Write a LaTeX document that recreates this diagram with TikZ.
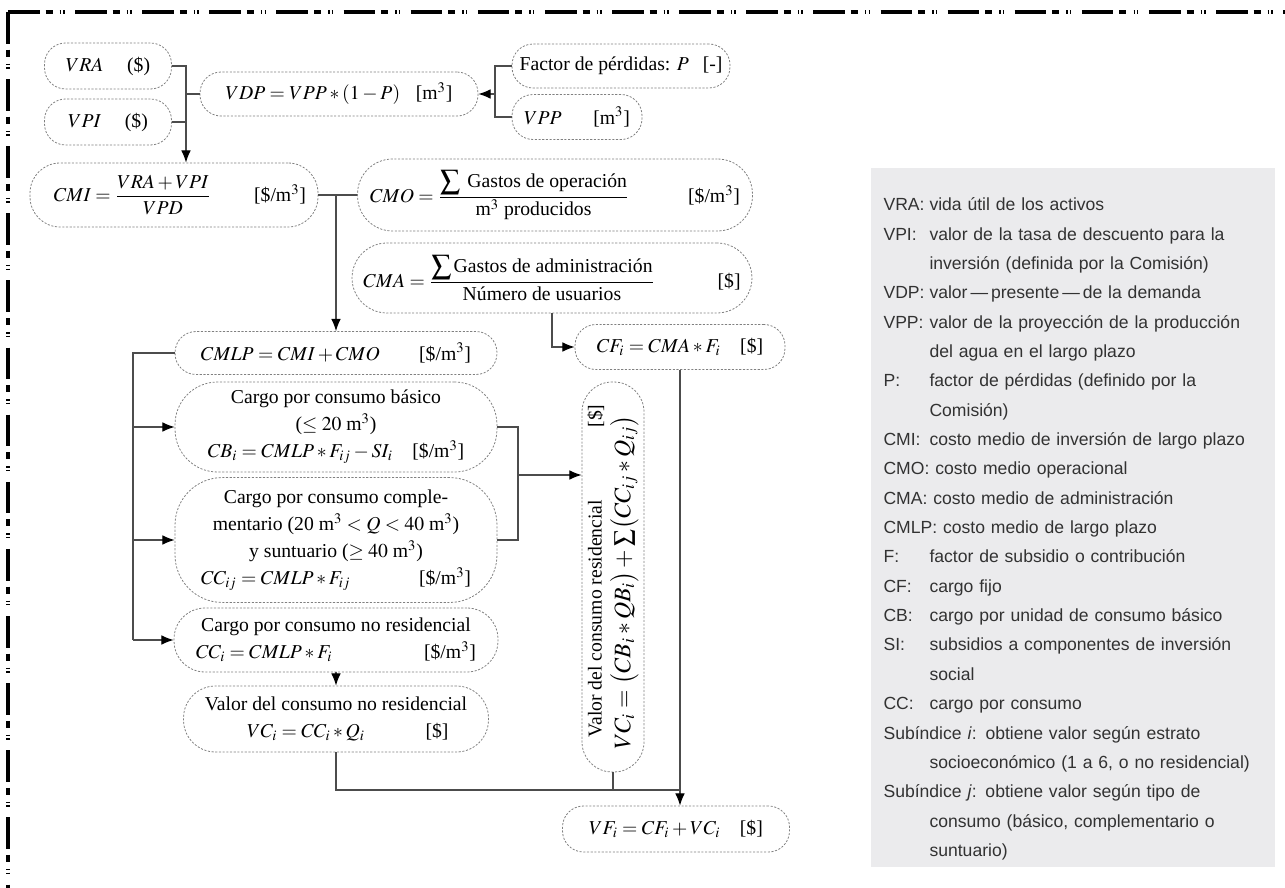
\documentclass[tikz,border=0pt]{standalone}
\usepackage{amsmath}
\usepackage{mathptmx}
\usepackage[no-math]{fontspec}
\setmainfont{Liberation Serif}
\newfontfamily\legendfont{Liberation Sans}
\usepackage{tikz}
\usetikzlibrary{positioning}
\usetikzlibrary{arrows.meta}
\definecolor{linegray}{rgb}{0.3,0.3,0.3}
\definecolor{boxgray}{rgb}{0.5,0.5,0.5}
\definecolor{legendbg}{RGB}{235,235,237}
\definecolor{legendtext}{RGB}{50,50,50}

% legend entries
\newlength{\lgdind}\setlength{\lgdind}{0.92cm}
\newcommand{\lgd}[2]{\par\noindent\hangindent=\lgdind\hangafter=1\makebox[\lgdind][l]{#1}#2}
\newcommand{\lgdw}[2]{\par\noindent\hangindent=\lgdind\hangafter=1#1 #2}

\begin{document}
\begin{tikzpicture}[
            x = 0.02cm, y = -0.02cm, % pixel grid
            > = {Latex[length=7pt,width=5.5pt,color=black]}, % arrow head style
            line width = 0.6pt
        ]

        \tikzstyle{pill}=[
            draw = boxgray,
            dash pattern = on 1.2pt off 0.9pt,
            line width = 0.45pt,
            rounded corners = #1,
            inner sep = 1pt,
            align = center,
            font = \fontsize{11.2}{15.4}\selectfont
        ]
        \tikzset{pill/.default=0.42cm}
        \tikzstyle{line}=[draw = linegray]
        \tikzstyle{frame}=[
            line width = 1.8pt,
            dash pattern = on 18pt off 3.4pt on 4pt off 4pt on 0.8pt off 1.2pt on 0.8pt off 6pt
        ]

        \useasboundingbox (0,0) rectangle (1285,888);

        % outer frame
        \draw[frame] (8,12) -- (1285,12);
        \draw[frame] (8,12) -- (8,888);

        % inputs
        \node[pill, minimum width=2.54cm, minimum height=0.92cm] (vra) at (108,66) {$VRA$\hspace{1.2em}(\$)};
        \node[pill, minimum width=2.54cm, minimum height=0.92cm] (vpi) at (108,122) {$VPI$\hspace{1.2em}(\$)};
        \node[pill, minimum width=5.56cm, minimum height=0.88cm] (vdp) at (339,94) {$VDP = VPP \ast (1-P)$\hspace{0.8em}[m$^3$]};
        \node[pill, minimum width=4.36cm, minimum height=0.88cm] (fp) at (621,66) {Factor de pérdidas: $P$\hspace{0.7em}[-]};
        \node[pill, minimum width=2.6cm, minimum height=0.9cm] (vpp) at (577,117) {$VPP$\hspace{1.6em}[m$^3$]};

        % unit costs
        \node[pill=0.6cm, minimum width=5.76cm, minimum height=1.28cm] (cmi) at (174,195)
            {\hspace{0.6em}$CMI = \dfrac{VRA+VPI}{VPD}$\hspace{2.2em}[\$/m$^3$]};
        \node[pill=0.7cm, minimum width=7.9cm, minimum height=1.44cm] (cmo) at (555,195)
            {$CMO = \dfrac{\displaystyle\sum \text{ Gastos de operación}}{\text{m}^3\ \text{producidos}}$\hspace{3em}[\$/m$^3$]};
        \node[pill=0.7cm, minimum width=8cm, minimum height=1.4cm] (cma) at (552,278)
            {$CMA = \dfrac{\displaystyle\sum \text{Gastos de administración}}{\text{Número de usuarios}}$\hspace{3.2em}[\$]};
        \node[pill, minimum width=4.2cm, minimum height=0.9cm] (cf) at (680,347) {$CF_i = CMA \ast F_i$\hspace{1em}[\$]};

        % charges
        \node[pill, minimum width=6.44cm, minimum height=0.86cm] (cmlp) at (336,353) {$CMLP = CMI + CMO$\hspace{2em}[\$/m$^3$]};
        \node[pill=0.85cm, minimum width=6.44cm, minimum height=1.8cm] (cb) at (336,427)
            {Cargo por consumo básico\\($\leq 20$ m$^3$)\\$CB_i = CMLP \ast F_{ij} - SI_i$\hspace{1em}[\$/m$^3$]};
        \node[pill=0.95cm, minimum width=6.44cm, minimum height=2.5cm] (ccij) at (336,540)
            {Cargo por consumo comple-\\mentario (20 m$^3 < Q < 40$ m$^3$)\\y suntuario ($\geq 40$ m$^3$)\\
             \makebox[5.4cm]{$CC_{ij} = CMLP \ast F_{ij}$\hfill[\$/m$^3$]}};
        \node[pill=0.62cm, minimum width=6.48cm, minimum height=1.28cm] (cci) at (336,640)
            {Cargo por consumo no residencial\\ \makebox[5.6cm]{$CC_i = CMLP \ast F_i$\hfill[\$/m$^3$]}};
        \node[pill=0.64cm, minimum width=6.1cm, minimum height=1.32cm] (vci) at (336,719)
            {Valor del consumo no residencial\\ \makebox[4.5cm]{\hspace{1.2em}$VC_i = CC_i \ast Q_i$\hfill[\$]}};

        % residential value, turned upright
        \node[pill=0.6cm, rotate=90, minimum width=7.8cm, minimum height=1.24cm, align=left] (vcr) at (613,577)
            {\makebox[6.9cm][l]{\hspace{0.6em}Valor del consumo residencial\hfill[\$]}\\[1pt]
             {\fontsize{13.5}{15}\selectfont$VC_i = \bigl(CB_i \ast QB_i\bigr) + \sum\bigl(CC_{ij} \ast Q_{ij}\bigr)$}};

        % total
        \node[pill, minimum width=4.54cm, minimum height=0.92cm] (vf) at (676,829) {$VF_i = CF_i + VC_i$\hspace{1em}[\$]};

        % connectors
        \coordinate (busA) at (186,94);
        \draw[line] (vra.east) -| (busA);
        \draw[line] (vpi.east) -| (busA);
        \draw[line] (busA) -- (vdp.west);
        \draw[line,->] (vpi.east -| busA) -- (cmi.north -| busA);

        \coordinate (busB) at (495,94);
        \draw[line] (fp.west) -| (busB);
        \draw[line] (vpp.west) -| (busB);
        \draw[line,->] (busB) -- (vdp.east);

        \draw[line] (cmi.east) -- (cmo.west);
        \coordinate (busC) at (336,195);
        \draw[line,->] (busC) -- (cmlp.north);
        \draw[line,->] (cma.south) |- (cf.west);

        \coordinate (busD) at (133,353);
        \draw[line] (cmlp.west) -- (busD) -- (busD |- cci.west);
        \draw[line,->] (busD |- cb.west) -- (cb.west);
        \draw[line,->] (busD |- ccij.west) -- (ccij.west);
        \draw[line,->] (busD |- cci.west) -- (cci.west);

        \coordinate (busE) at (518,475);
        \draw[line] (cb.east) -| (busE);
        \draw[line] (ccij.east) -| (busE);
        \draw[line,->] (busE) -- (busE -| vcr.north);

        \draw[line,->] (cci.south) -- (vci.north);

        \coordinate (busF) at (680,790);
        \draw[line] (vci.south) |- (busF);
        \draw[line] (vcr.west) -- (vcr.west |- busF);
        \draw[line,->] (cf.south) -- (cf.south |- vf.north);

        % legend
        \node[fill=legendbg, minimum width=8.1cm, minimum height=14cm, anchor=north west] (lgdbg) at (870,167) {};
        \node[anchor=north west, inner sep=0pt, text width=7.9cm, align=left, text=legendtext,
              font=\legendfont\fontsize{10}{16.7}\selectfont] (lgdtext) at (883,181) {%
            \lgd{VRA:}{vida útil de los activos}
            \lgd{VPI:}{valor de la tasa de descuento para la\newline inversión (definida por la Comisión)}
            \lgd{VDP:}{valor\,—\,presente\,—\,de la demanda}
            \lgd{VPP:}{valor de la proyección de la producción\newline del agua en el largo plazo}
            \lgd{P:}{factor de pérdidas (definido por la\newline Comisión)}
            \lgd{CMI:}{costo medio de inversión de largo plazo}
            \lgdw{CMO:}{costo medio operacional}
            \lgdw{CMA:}{costo medio de administración}
            \lgdw{CMLP:}{costo medio de largo plazo}
            \lgd{F:}{factor de subsidio o contribución}
            \lgd{CF:}{cargo fijo}
            \lgd{CB:}{cargo por unidad de consumo básico}
            \lgd{SI:}{subsidios a componentes de inversión\newline social}
            \lgd{CC:}{cargo por consumo}
            \lgdw{Subíndice \textit{i}:}{obtiene valor según estrato\newline socioeconómico (1 a 6, o no residencial)}
            \lgdw{Subíndice \textit{j}:}{obtiene valor según tipo de\newline consumo (básico, complementario o\newline suntuario)}\par};

\end{tikzpicture}
\end{document}
